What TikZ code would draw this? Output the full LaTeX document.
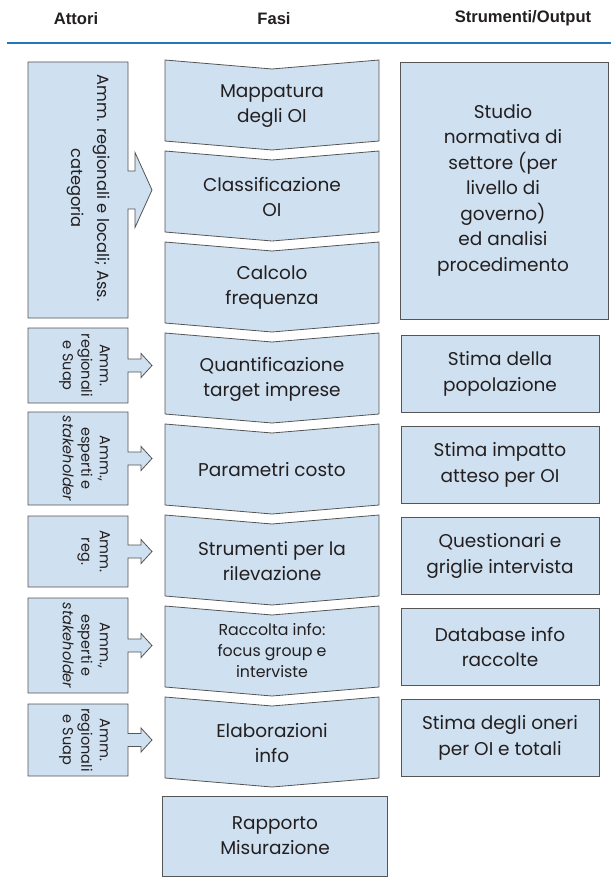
\documentclass[tikz,border=0pt]{standalone}
\usepackage{fontspec}
\setmainfont{Poppins}
\newfontfamily\headfont{Liberation Sans}

\definecolor{boxfill}{HTML}{CFE0F0}
\definecolor{boxline}{HTML}{555555}
\definecolor{ink}{HTML}{231F20}
\definecolor{rulecol}{HTML}{1F78BE}

\tikzset{
  shapebox/.style={fill=boxfill, draw=boxline, line width=0.8pt, line join=miter},
  head/.style={text=ink, font=\headfont\bfseries\fontsize{16.6}{19}\selectfont, anchor=center, inner sep=0pt},
  phase/.style={text=ink, align=center, inner sep=0pt, font=\fontsize{18.5}{25}\selectfont},
  phasesmall/.style={text=ink, align=center, inner sep=0pt, font=\fontsize{15.8}{21}\selectfont},
  outtxt/.style={text=ink, align=center, inner sep=0pt, font=\fontsize{18.5}{25.5}\selectfont},
  actor/.style={text=ink, align=center, inner sep=0pt, rotate=-90, anchor=north, font=\fontsize{16.3}{25.5}\selectfont},
  actorsmall/.style={text=ink, align=center, inner sep=0pt, rotate=-90, anchor=north, font=\fontsize{14.5}{18.5}\selectfont},
}

% chevron of the phase column: #1 = top edge
\newcommand\phasechevron[1]{%
  \path[shapebox] (165,#1) -- (272,#1+9) -- (379,#1) -- (379,#1+81)
    -- (272,#1+90) -- (165,#1+81) -- cycle;}

% actor box with a block arrow on its right side
% #1 top, #2 bottom, #3 shaft half height, #4 head half height, #5 head start
\newcommand\actorbox[5]{%
  \path[shapebox] (28,#1) -- (128,#1) -- (128,{(#1+#2)/2-#3}) -- (#5,{(#1+#2)/2-#3})
    -- (#5,{(#1+#2)/2-#4}) -- (152,{(#1+#2)/2}) -- (#5,{(#1+#2)/2+#4})
    -- (#5,{(#1+#2)/2+#3}) -- (128,{(#1+#2)/2+#3}) -- (128,#2) -- (28,#2) -- cycle;}

\begin{document}
\begin{tikzpicture}[x=1pt,y=-1pt]
\useasboundingbox (0,0) rectangle (611,877);

% column headings and rule
\node[head] (hA) at (76,18.5) {Attori};
\node[head] (hF) at (274,18.5) {Fasi};
\node[head] (hS) at (523,18.5) {Strumenti/Output};
\draw[rulecol, line width=2.2pt] (7,43) -- (611,43);

% phases
\phasechevron{60}
\phasechevron{151}
\phasechevron{242}
\phasechevron{333}
\phasechevron{424}
\phasechevron{515}
\phasechevron{606}
\phasechevron{697}
\path[shapebox] (162,796) rectangle (387,876);

\node[phase] (f1) at (272,106) {Mappatura\\degli OI};
\node[phase] (f2) at (272,197) {Classificazione\\OI};
\node[phase] (f3) at (272,288) {Calcolo\\frequenza};
\node[phase] (f4) at (272,379) {Quantificazione\\target imprese};
\node[phase] (f5) at (272,470) {Parametri costo};
\node[phase] (f6) at (272,561) {Strumenti per la\\rilevazione};
\node[phasesmall] (f7) at (272,651) {Raccolta info:\\focus group e\\interviste};
\node[phase] (f8) at (272,743) {Elaborazioni\\info};
\node[phase] (f9) at (275,836) {Rapporto\\Misurazione};

% actors
\actorbox{62}{318}{19}{37.5}{135}
\actorbox{328}{403}{6.5}{12}{141}
\actorbox{412}{505}{6.5}{12}{141}
\actorbox{516}{587}{6.5}{12}{141}
\actorbox{598}{693}{6.5}{12}{141}
\actorbox{704}{776}{6.5}{12}{141}

\node[actor] (a1) at (110,188) {Amm. regionali e locali; Ass.\\categoria};
\node[actorsmall] (a2) at (110,365.5) {Amm.\\regionali\\e Suap};
\node[actorsmall] (a3) at (110,458.5) {Amm.,\\esperti e\\\itshape stakeholder};
\node[actorsmall] (a4) at (110,551.5) {Amm.\\reg.};
\node[actorsmall] (a5) at (110,645.5) {Amm.,\\esperti e\\\itshape stakeholder};
\node[actorsmall] (a6) at (110,740) {Amm.\\regionali\\e Suap};

% tools and outputs
\path[shapebox] (400,62) rectangle (608,319);
\path[shapebox] (401,335) rectangle (599,412);
\path[shapebox] (401,426) rectangle (599,503);
\path[shapebox] (401,517) rectangle (599,594);
\path[shapebox] (401,608) rectangle (599,685);
\path[shapebox] (401,699) rectangle (599,776);

\node[outtxt] (s1) at (503,190) {Studio\\normativa di\\settore (per\\livello di\\governo)\\ed analisi\\procedimento};
\node[outtxt] (s2) at (500,374) {Stima della\\popolazione};
\node[outtxt] (s3) at (500,465) {Stima impatto\\atteso per OI};
\node[outtxt] (s4) at (500,556) {Questionari e\\griglie intervista};
\node[outtxt] (s5) at (500,647) {Database info\\raccolte};
\node[outtxt] (s6) at (500,738) {Stima degli oneri\\per OI e totali};
\end{tikzpicture}
\end{document}
